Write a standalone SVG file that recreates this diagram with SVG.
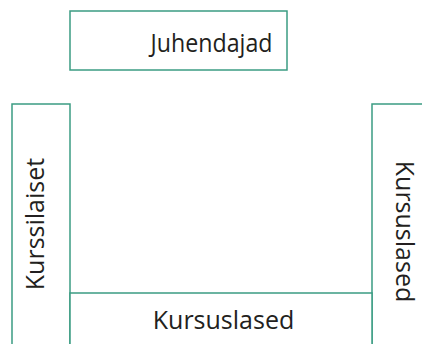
<svg xmlns="http://www.w3.org/2000/svg" width="422" height="344" viewBox="0 0 422 344">
<style>
.box{fill:#ffffff;stroke:#3b9c83;stroke-width:1.5}
.lbl{font-family:"Open Sans","Noto Sans",sans-serif;font-size:25px;fill:#231f20;text-anchor:middle}
</style>
<rect width="422" height="344" fill="#ffffff"/>
<g id="connectors"></g>
<g id="juhendajad">
<rect class="box" x="70" y="11" width="217" height="59"/>
<text class="lbl" x="211.5" y="52" textLength="122" lengthAdjust="spacingAndGlyphs">Juhendajad</text>
</g>
<g id="kurssilaiset">
<rect class="box" x="12" y="104" width="58" height="250"/>
<text class="lbl" transform="translate(44,224) rotate(-90)">Kurssilaiset</text>
</g>
<g id="kursuslased-right">
<rect class="box" x="372" y="104" width="60" height="250"/>
<text class="lbl" transform="translate(396,231.5) rotate(90)">Kursuslased</text>
</g>
<g id="kursuslased-bottom">
<rect class="box" x="70" y="293" width="302" height="60"/>
<text class="lbl" x="223.5" y="329">Kursuslased</text>
</g>
</svg>
